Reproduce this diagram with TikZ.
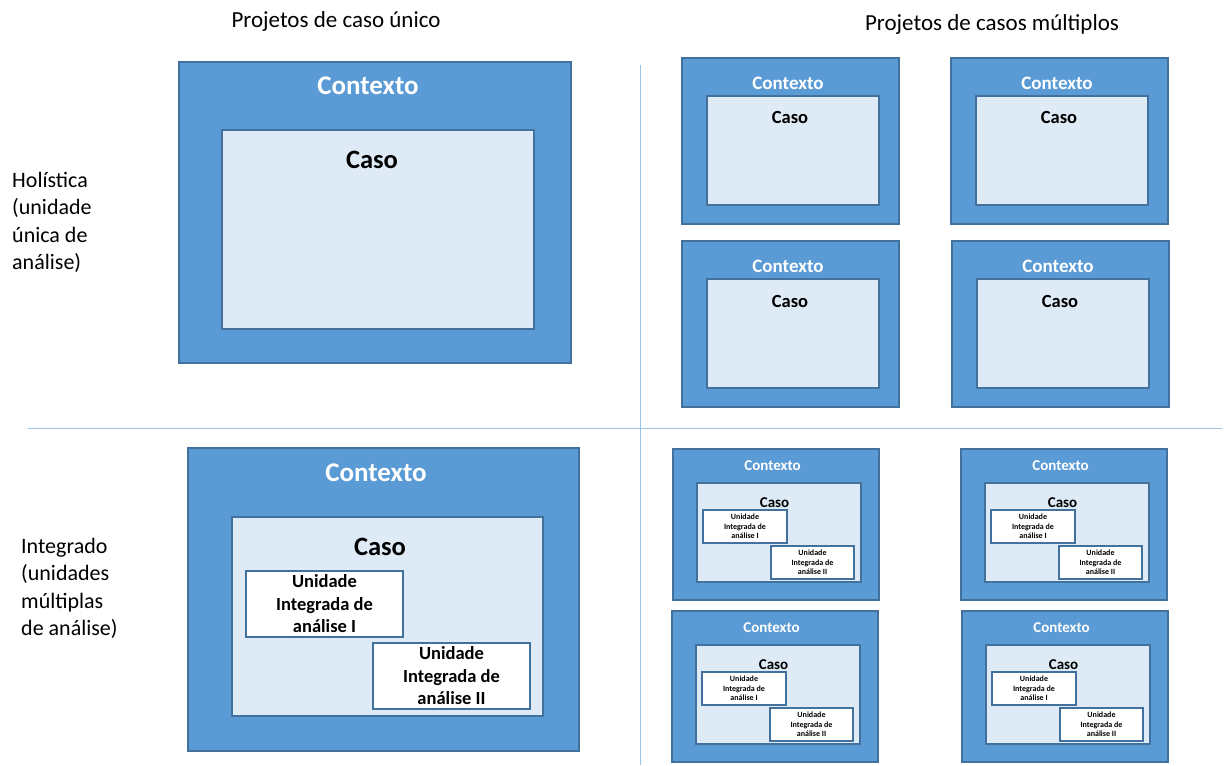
\documentclass[tikz,border=0pt]{standalone}
\usepackage{fontspec}
\setmainfont{Carlito}

\definecolor{ctxblue}{HTML}{5B9BD5}
\definecolor{edgeblue}{HTML}{41719C}
\definecolor{caseblue}{HTML}{DEEBF7}
\definecolor{lineblue}{HTML}{9DC3E6}

\begin{document}
\begin{tikzpicture}[x=1pt, y=-1pt,
    ctxbox/.style={fill=ctxblue, draw=edgeblue, line width=1.5pt},
    casebox/.style={fill=caseblue, draw=edgeblue, line width=1.5pt},
    unitbox/.style={fill=white, draw=edgeblue, line width=1.5pt},
    divider/.style={draw=lineblue, line width=1pt},
    ctxtext/.style={text=white, font=\bfseries\fontsize{#1}{#1}\selectfont},
    casetext/.style={text=black, font=\bfseries\fontsize{#1}{#1}\selectfont},
    rowtext/.style={anchor=north west, align=left, inner sep=0pt,
        font=\fontsize{22}{27.5}\selectfont},
  ]
        \useasboundingbox (0,0) rectangle (1225,765);

        % divisoes
        \coordinate (vtop) at (640,65);
        \coordinate (vbot) at (640,765);
        \coordinate (hleft) at (28,428);
        \coordinate (hright) at (1222,428);
        \draw[divider] (vtop) -- (vbot);
        \draw[divider] (hleft) -- (hright);

        % titulos
        \node[anchor=base, font=\fontsize{23}{27}\selectfont] (titleSingle) at (336,28) {Projetos de caso único};
        \node[anchor=base, font=\fontsize{23}{27}\selectfont] (titleMulti) at (992,31) {Projetos de casos múltiplos};

        \node[rowtext] (rowHolistic) at (12,172) {Holística\\(unidade\\única de\\análise)};
        \node[rowtext] (rowIntegrated) at (21,538) {Integrado\\(unidades\\múltiplas\\de análise)};

        % caso unico, holistico
        \begin{scope}[local bounding box=singleHolistic]
            \draw[ctxbox] (179,62) rectangle (571,363);
            \draw[casebox] (222,130) rectangle (534,329);
            \node[ctxtext=27] (ctxSH) at (368,86) {Contexto};
            \node[casetext=26.5] (casoSH) at (372,160) {Caso};
        \end{scope}

        % caso unico, integrado
        \begin{scope}[local bounding box=singleIntegrated]
            \draw[ctxbox] (188,448) rectangle (579,751);
            \draw[casebox] (232,517) rectangle (543,716);
            \node[ctxtext=27] (ctxSI) at (376,473) {Contexto};
            \node[casetext=26.5] (casoSI) at (380,547) {Caso};

            \draw[unitbox] (246,571) rectangle (403,637);
            \draw[unitbox] (373,643) rectangle (530,709);
            \node[casetext=18.5, align=center, font=\bfseries\fontsize{18.5}{22.5}\selectfont] (unitSI1) at (324.5,604) {Unidade\\Integrada de\\análise I};
            \node[casetext=18.5, align=center, font=\bfseries\fontsize{18.5}{22.5}\selectfont] (unitSI2) at (451.5,676) {Unidade\\Integrada de\\análise II};
        \end{scope}

        % casos multiplos, holistico
        \foreach \px/\py [count=\i] in {682/58, 951/58, 682/241, 952/241} {
            \begin{scope}[shift={(\px,\py)}]
                \draw[ctxbox] (0,0) rectangle (217,166);
                \draw[casebox] (25,38) rectangle (197,147);
                \node[ctxtext=19] (ctxMH\i) at (106,25) {Contexto};
                \node[casetext=18.5] (casoMH\i) at (108,60) {Caso};
            \end{scope}
        }

        % casos multiplos, integrado
        \foreach \px/\py [count=\i] in {673/449, 961/449, 672/611, 962/611} {
            \begin{scope}[shift={(\px,\py)}]
                \draw[ctxbox] (0,0) rectangle (206,151);
                \draw[casebox] (24,34) rectangle (188,133);
                \node[ctxtext=15] (ctxMI\i) at (99.5,17) {Contexto};
                \node[casetext=15] (casoMI\i) at (101.5,54) {Caso};

                \draw[unitbox] (30,61) rectangle (114,94);
                \draw[unitbox] (98,97) rectangle (181,130);
                \node[casetext=8, align=center, font=\bfseries\fontsize{8}{9.5}\selectfont] (unitMIa\i) at (72,77.5) {Unidade\\Integrada de\\análise I};
                \node[casetext=8, align=center, font=\bfseries\fontsize{8}{9.5}\selectfont] (unitMIb\i) at (139.5,113.5) {Unidade\\Integrada de\\análise II};
            \end{scope}
        }

\end{tikzpicture}
\end{document}
